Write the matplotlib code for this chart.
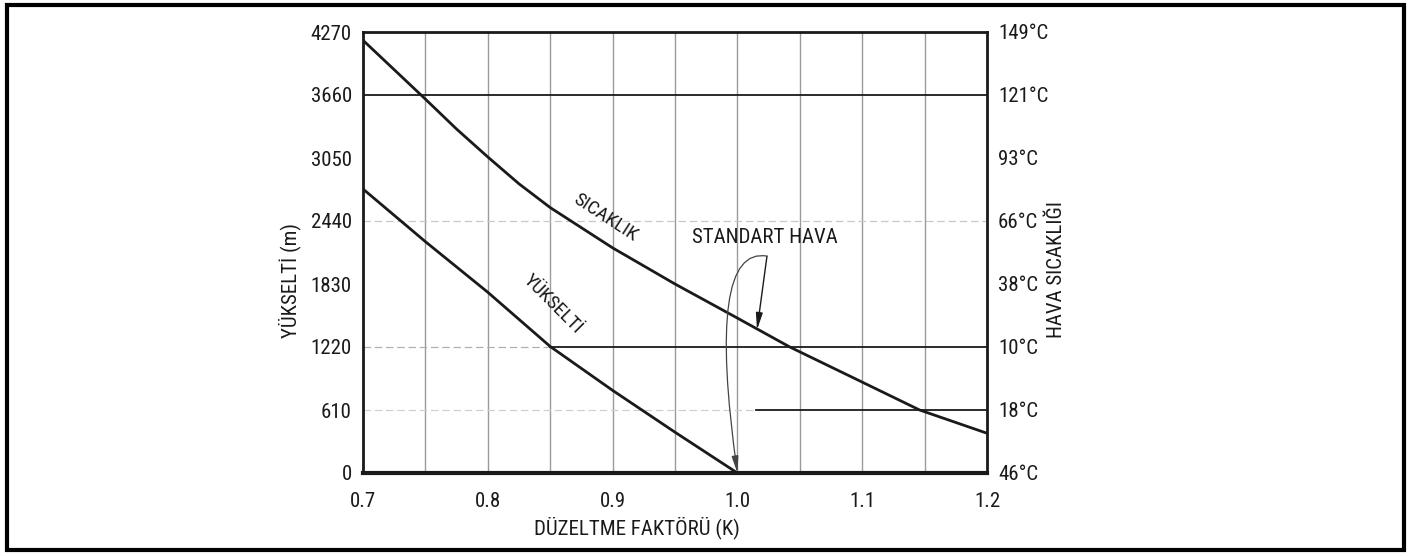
import numpy as np
import matplotlib
matplotlib.use("Agg")
import matplotlib.pyplot as plt
from matplotlib.patches import Rectangle
from matplotlib import font_manager

adlar = set(f.name for f in font_manager.fontManager.ttflist)
dar = [a for a in ["DejaVu Sans Condensed", "Liberation Sans Narrow", "Roboto Condensed"] if a in adlar]
plt.rcParams['font.family'] = dar + ['DejaVu Sans']

# duzeltme faktoru (K) - sicaklik egrisi
k_sicaklik = [0.70, 0.75, 0.775, 0.80, 0.825, 0.85, 0.90, 0.95, 1.00, 1.042, 1.10, 1.146, 1.20]
y_sicaklik = [4190, 3620, 3330, 3060, 2800, 2570, 2180, 1830, 1500, 1220, 880, 610, 385]

# yukselti egrisi
k_yukselti = [0.70, 0.75, 0.80, 0.85, 0.90, 0.95, 1.00]
y_yukselti = [2750, 2240, 1750, 1225, 800, 395, 0]

sol_etiket = [0, 610, 1220, 1830, 2440, 3050, 3660, 4270]
sag_etiket = ["46°C", "18°C", "10°C", "38°C", "66°C", "93°C", "121°C", "149°C"]
x_etiket = [0.7, 0.8, 0.9, 1.0, 1.1, 1.2]

fs = 15 if dar else 12.5
renk = "#1a1a1a"
fig = plt.figure(figsize=(14.12, 5.56), dpi=100)
ax = fig.add_axes([363/1412, 83/556, 624/1412, 441/556])

ax.set_xlim(0.7, 1.2)
ax.set_ylim(0, 4270)

# izgara
for xv in np.arange(0.75, 1.16, 0.05):
    ax.axvline(xv, color="#9a9a9a", lw=1.0, zorder=1)
ax.axhline(3660, color=renk, lw=1.3, zorder=2)
ax.axhline(2440, color="#c8c8c8", lw=0.9, ls=(0, (6, 3)), zorder=1)
ax.plot([0.7, 0.85], [1220, 1220], color="#b0b0b0", lw=0.9, ls=(0, (6, 3)), zorder=1)
ax.plot([0.85, 1.2], [1220, 1220], color=renk, lw=1.3, zorder=2)
ax.plot([0.7, 1.015], [610, 610], color="#d0d0d0", lw=0.9, ls=(0, (6, 3)), zorder=1)
ax.plot([1.015, 1.2], [610, 610], color=renk, lw=1.3, zorder=2)

ax.plot(k_sicaklik, y_sicaklik, color=renk, lw=2.0, zorder=3)
ax.plot(k_yukselti, y_yukselti, color=renk, lw=2.0, zorder=3)

for s in ["left", "right", "top"]:
    ax.spines[s].set_linewidth(2.0)
    ax.spines[s].set_color(renk)
ax.spines["bottom"].set_linewidth(3.0)
ax.spines["bottom"].set_color(renk)

ax.set_xticks(x_etiket)
ax.set_xticklabels(["0.7", "0.8", "0.9", "1.0", "1.1", "1.2"])
ax.set_yticks(sol_etiket)
ax.tick_params(length=0, labelsize=fs, labelcolor=renk, pad=8)
ax.tick_params(axis="x", pad=14)

ax2 = ax.twinx()
ax2.set_ylim(0, 4270)
ax2.set_yticks(sol_etiket)
ax2.set_yticklabels(sag_etiket)
ax2.tick_params(length=0, labelsize=fs, labelcolor=renk, pad=8)
for s in ax2.spines.values():
    s.set_visible(False)

# egri etiketleri
ax.text(0.894, 2470, "SICAKLIK", rotation=-33, fontsize=fs - 1, color=renk,
        ha="center", va="center")
ax.text(0.852, 1630, "YÜKSELTİ", rotation=-45, fontsize=fs - 1, color=renk,
        ha="center", va="center")
ax.text(1.022, 2280, "STANDART HAVA", fontsize=fs, color=renk,
        ha="center", va="center")

ax.annotate("", xy=(1.0157, 1385), xytext=(1.0237, 2100),
            arrowprops=dict(arrowstyle="-|>,head_length=1.0,head_width=0.2",
                            color=renk, lw=1.0, shrinkA=0, shrinkB=0))
ax.annotate("", xy=(1.0, 0), xytext=(1.0237, 2100),
            arrowprops=dict(arrowstyle="-|>,head_length=1.0,head_width=0.2",
                            color="#444444", lw=0.9, shrinkA=0, shrinkB=0,
                            connectionstyle="angle3,angleA=170,angleB=98"))

fig.text(637/1412, 1 - 528/556, "DÜZELTME FAKTÖRÜ (K)", fontsize=fs, color=renk,
         ha="center", va="center")
fig.text(290/1412, 1 - 280/556, "YÜKSELTİ (m)", fontsize=fs, color=renk,
         rotation=90, ha="center", va="center")
fig.text(1056/1412, 1 - 270/556, "HAVA SICAKLIĞI", fontsize=fs, color=renk,
         rotation=90, ha="center", va="center")

fig.patches.append(Rectangle((7/1412, 6/556), 1397/1412, 545/556,
                             transform=fig.transFigure, fill=False,
                             edgecolor="black", lw=3))

fig.savefig("out.png", dpi=100)
